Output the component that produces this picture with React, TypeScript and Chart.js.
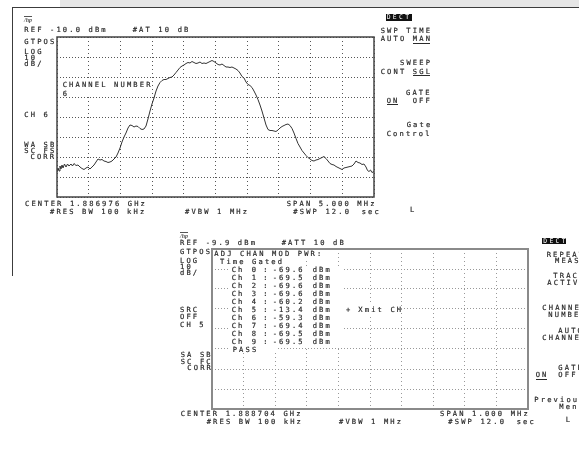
import React, { useEffect, useRef } from "react";
import { Chart, registerables } from "chart.js";

Chart.register(...registerables);

// ---------- DATA ----------
// Top trace: frequency offset from centre (kHz) and level (dBm)
const traceFreqKHz = [
  -2500, -2484, -2468, -2453, -2437, -2421, -2405, -2382, -2358, -2334, -2311, -2279, -2256, -2232, -2200,
  -2169, -2137, -2106, -2074, -2043, -2011, -1980, -1948, -1916, -1885, -1853, -1822, -1790, -1759, -1727,
  -1696, -1664, -1632, -1601, -1569, -1538, -1506, -1475, -1443, -1412, -1380, -1349, -1317, -1285, -1254,
  -1222, -1191, -1159, -1128, -1096, -1065, -1033, -1002, -970, -938, -907, -875, -844, -812, -781,
  -749, -718, -686, -655, -623, -591, -560, -528, -497, -465, -434, -402, -371, -339, -308,
  -276, -244, -213, -181, -150, -118, -87, -55, -24, 8, 40, 71, 103, 134, 166,
  197, 229, 260, 292, 323, 355, 386, 418, 450, 481, 513, 544, 576, 607, 639,
  670, 702, 733, 765, 797, 828, 860, 891, 923, 954, 986, 1017, 1049, 1081, 1112,
  1144, 1175, 1207, 1238, 1270, 1301, 1333, 1364, 1396, 1428, 1459, 1491, 1522, 1554, 1585,
  1617, 1648, 1680, 1711, 1743, 1775, 1806, 1838, 1869, 1901, 1932, 1964, 1995, 2027, 2058,
  2090, 2122, 2153, 2185, 2216, 2248, 2279, 2311, 2342, 2374, 2398, 2421, 2445, 2468, 2500,
];
const traceDbm = [
  -77.5, -75.5, -77, -74.5, -76, -74, -75.5, -73.5, -75, -73.5, -74.5, -73.5, -74.5, -73.25, -74.25,
  -74, -75, -75.75, -76.25, -75.5, -75, -76, -75, -74, -72.5, -71, -71.5, -71.25, -72, -72.25,
  -72.75, -72.5, -72, -71, -70, -68, -65.5, -62.5, -60, -58, -55.5, -54, -54.25, -55, -54.5,
  -54.75, -55.75, -56.25, -56, -54.5, -51, -47, -43.5, -40.5, -37, -34.5, -32.75, -31.75, -31.25, -31.25,
  -30.75, -30.25, -30, -29, -27.75, -26.5, -25.25, -24.5, -24, -23.25, -22.75, -23, -22.25, -22.75, -23.25,
  -23, -22.5, -23.25, -23, -23.25, -22.75, -22.25, -21.75, -22.25, -23, -23.75, -24, -23.5, -24.25, -25,
  -25, -25.25, -25, -25.5, -26, -26.75, -28, -29.75, -30.5, -32.5, -33.75, -34.25, -35.25, -37, -39,
  -41.25, -44, -47, -50.5, -54, -56.25, -56.75, -56.75, -57, -57.25, -56.5, -55.5, -54.75, -54.25, -53.75,
  -53.5, -54.25, -55.75, -58, -60.75, -63.25, -65, -66.75, -68, -69.25, -70.25, -71, -71.75, -72, -71.5,
  -71.25, -70.75, -70.25, -69.75, -70.75, -72, -73.25, -73.75, -74, -74.75, -75.25, -75.75, -76.25, -75.5, -75.25,
  -75, -74.75, -74.5, -73.5, -72, -72.75, -73, -73.75, -73.5, -75, -76.75, -77.25, -76.5, -77.75, -77.25,
];
const topSpanKHz = [-2500, 2500];
const topRefDbm = [-90, -10];
const bottomSpanKHz = [-500, 500];
const bottomRefDbm = [-89.9, -9.9];

// Adjacent channel table (bottom display)
const adjChannels = [0, 1, 2, 3, 4, 5, 6, 7, 8, 9];
const adjPowerDbm = [-69.6, -69.5, -69.6, -69.6, -60.2, -13.4, -59.3, -69.4, -69.5, -69.5];
const xmitChannel = 5;

// ---------- STYLE ----------
const FONT = '"DejaVu Sans Mono", monospace';
const FS = 7.1;
const LS = 2.15;
const INK = "#2a2a2a";

const framePlugin = {
  id: "frame",
  afterDraw(chart: any, _args: any, opts: any) {
    const { ctx, chartArea } = chart;
    const { left, top, right, bottom } = chartArea;
    ctx.save();
    ctx.strokeStyle = opts.color || "#444";
    ctx.lineWidth = opts.width || 1.5;
    ctx.strokeRect(left, top, right - left, bottom - top);
    ctx.restore();
  },
};

function T({ x, y, children, color = INK }: { x: number; y: number; children: any; color?: string }) {
  return (
    <div
      style={{
        position: "absolute",
        left: x,
        top: y - 0.9,
        fontFamily: FONT,
        fontSize: FS + "px",
        lineHeight: FS + "px",
        letterSpacing: LS + "px",
        whiteSpace: "pre",
        color,
        WebkitTextStroke: "0.2px " + color,
        transform: "translateZ(0)",
      }}
    >
      {children}
    </div>
  );
}

function U({ x, y, w }: { x: number; y: number; w: number }) {
  return <div style={{ position: "absolute", left: x, top: y, width: w, height: 1.2, background: INK }} />;
}

function Box({ x, y, w, h, bg = "#fff" }: { x: number; y: number; w: number; h: number; bg?: string }) {
  return <div style={{ position: "absolute", left: x, top: y, width: w, height: h, background: bg }} />;
}

function Logo({ x, y }: { x: number; y: number }) {
  return (
    <div
      style={{
        position: "absolute",
        left: x,
        top: y,
        fontFamily: '"Liberation Serif", serif',
        fontStyle: "italic",
        fontWeight: "bold",
        fontSize: "6px",
        lineHeight: "6px",
        color: "#555",
        textDecoration: "overline",
        transform: "translateZ(0)",
      }}
    >
      /hp
    </div>
  );
}

function Dect({ x, y, w, h }: { x: number; y: number; w: number; h: number }) {
  return (
    <div style={{ position: "absolute", left: x, top: y, width: w, height: h, background: "#111" }}>
      <div
        style={{
          position: "absolute",
          left: 1,
          top: (h - FS) / 2 + 0.3,
          fontFamily: FONT,
          fontSize: "6.4px",
          lineHeight: FS + "px",
          letterSpacing: "2.3px",
          whiteSpace: "pre",
          color: "#fff",
          transform: "translateZ(0)",
        }}
      >
        DECT
      </div>
    </div>
  );
}

function makeScales(span: number[], ref: number[], xStep: number, color: string) {
  return {
    x: {
      type: "linear" as const,
      min: span[0],
      max: span[1],
      ticks: { display: false, stepSize: xStep },
      grid: { color, lineWidth: 1, drawTicks: false },
      border: { display: false, dash: [1, 3] },
    },
    y: {
      type: "linear" as const,
      min: ref[0],
      max: ref[1],
      ticks: { display: false, stepSize: 10 },
      grid: { color, lineWidth: 1, drawTicks: false },
      border: { display: false, dash: [1, 2] },
    },
  };
}

export default function App() {
  const topRef = useRef<HTMLCanvasElement>(null);
  const botRef = useRef<HTMLCanvasElement>(null);

  useEffect(() => {
    const top = new Chart(topRef.current!, {
      type: "line",
      data: {
        datasets: [
          {
            data: traceFreqKHz.map((f, i) => ({ x: f, y: traceDbm[i] })),
            borderColor: "#333",
            borderWidth: 1,
            pointRadius: 0,
            tension: 0,
          },
        ],
      },
      options: {
        responsive: false,
        animation: false,
        devicePixelRatio: 1,
        layout: { padding: 4 },
        plugins: { legend: { display: false }, tooltip: { enabled: false }, frame: { color: "#444", width: 1.5 } } as any,
        scales: makeScales(topSpanKHz, topRefDbm, 500, "#555") as any,
      },
      plugins: [framePlugin],
    });
    const bot = new Chart(botRef.current!, {
      type: "line",
      data: { datasets: [] },
      options: {
        responsive: false,
        animation: false,
        devicePixelRatio: 1,
        layout: { padding: 4 },
        plugins: { legend: { display: false }, tooltip: { enabled: false }, frame: { color: "#8a8a8a", width: 2 } } as any,
        scales: makeScales(bottomSpanKHz, bottomRefDbm, 100, "#999") as any,
      },
      plugins: [framePlugin],
    });
    return () => {
      top.destroy();
      bot.destroy();
    };
  }, []);

  const rowY = (i: number) => 267.3 + 7.98 * i;

  return (
    <div style={{ position: "fixed", left: 0, top: 0, width: 579, height: 455, overflow: "hidden", background: "#fff" }}>
      {/* page frame */}
      <Box x={60} y={0} w={519} h={6.7} bg="#e6e6e6" />
      <Box x={12} y={6.5} w={567} h={1.5} bg="#3c3c3c" />
      <Box x={11.8} y={6.5} w={1.5} h={269} bg="#3c3c3c" />

      {/* ---------- TOP DISPLAY ---------- */}
      <canvas ref={topRef} width={325} height={168} style={{ position: "absolute", left: 53, top: 33 }} />
      <Logo x={24} y={16.5} />
      <T x={24.3} y={27}>REF -10.0 dBm</T>
      <T x={132.7} y={27}>#AT 10 dB</T>
      <T x={24.3} y={39}>GTPOS</T>
      <T x={24.3} y={48.5}>LOG</T>
      <T x={24.3} y={54.8}>10</T>
      <T x={24.3} y={61.2}>dB/</T>
      <Box x={60} y={80} w={92} h={17} />
      <T x={62.7} y={81.7}>CHANNEL NUMBER</T>
      <T x={62.7} y={90.7}>6</T>
      <T x={24.3} y={111.7}>CH 6</T>
      <T x={24.3} y={141.8}>WA SB</T>
      <T x={24.3} y={148}>SC FS</T>
      <T x={30.5} y={154.3}>CORR</T>
      <T x={25} y={200.7}>CENTER 1.886976 GHz</T>
      <T x={50} y={209}>#RES BW 100 kHz</T>
      <T x={185} y={209}>#VBW 1 MHz</T>
      <T x={286.7} y={200.7}>SPAN 5.000 MHz</T>
      <T x={293.3} y={209}>#SWP 12.0</T>
      <T x={361.7} y={209}>sec</T>
      <T x={410} y={207}>L</T>

      {/* top softkeys */}
      <Dect x={385.7} y={13.8} w={26} h={6.8} />
      <T x={380.7} y={28.3}>SWP TIME</T>
      <T x={380.7} y={36.2}>AUTO MAN</T>
      <U x={412.7} y={42.6} w={17.5} />
      <T x={400} y={60}>SWEEP</T>
      <T x={380.7} y={68.5}>CONT SGL</T>
      <U x={412.7} y={74.9} w={17.5} />
      <T x={406} y={90}>GATE</T>
      <T x={386.7} y={97.7}>ON</T>
      <T x={412.7} y={97.7}>OFF</T>
      <U x={386.7} y={104.1} w={11} />
      <T x={406.7} y={122.3}>Gate</T>
      <T x={386.7} y={131}>Control</T>

      {/* ---------- BOTTOM DISPLAY ---------- */}
      <canvas ref={botRef} width={324} height={168} style={{ position: "absolute", left: 208, top: 245 }} />
      <Logo x={180} y={232.5} />
      <T x={180} y={240}>REF -9.9 dBm</T>
      <T x={281.7} y={240}>#ATT 10 dB</T>
      <T x={180} y={249}>GTPOS</T>
      <T x={180} y={257.6}>LOG</T>
      <T x={180} y={263.9}>10</T>
      <T x={180} y={270.2}>dB/</T>
      <T x={180} y={307.3}>SRC</T>
      <T x={180} y={314.2}>OFF</T>
      <T x={180} y={321.5}>CH 5</T>
      <T x={180.7} y={352.2}>SA SB</T>
      <T x={180.7} y={358.6}>SC FC</T>
      <T x={187.3} y={365}>CORR</T>
      <T x={180.7} y={411}>CENTER 1.888704 GHz</T>
      <T x={206.7} y={419}>#RES BW 100 kHz</T>
      <T x={339} y={419}>#VBW 1 MHz</T>
      <T x={440} y={411}>SPAN 1.000 MHz</T>
      <T x={448.3} y={419}>#SWP 12.0</T>
      <T x={516.7} y={419}>sec</T>
      <T x={565.7} y={417.3}>L</T>

      {/* ADJ CHAN table */}
      <Box x={213} y={250} w={121} h={7.5} />
      <T x={214.3} y={251.3}>ADJ CHAN MOD PWR:</T>
      <Box x={218} y={257.5} w={72} h={8} />
      <T x={220} y={258.8}>Time Gated</T>
      {adjChannels.map((ch, i) => {
        const y = rowY(i);
        const xmit = ch === xmitChannel;
        return (
          <React.Fragment key={ch}>
            <Box x={229} y={y - 1.8} w={xmit ? 167 : 114} h={8.6} />
            <T x={231.7} y={y}>Ch</T>
            <T x={251.7} y={y}>{String(ch)}</T>
            <T x={263.3} y={y}>:</T>
            <T x={272.7} y={y}>{adjPowerDbm[i].toFixed(1)}</T>
            <T x={312.7} y={y}>dBm</T>
            {xmit && (
              <>
                <T x={346} y={y}>+</T>
                <T x={358.3} y={y}>Xmit CH</T>
              </>
            )}
          </React.Fragment>
        );
      })}
      <Box x={229} y={345} w={49} h={8} />
      <T x={232.7} y={346.8}>PASS</T>

      {/* bottom softkeys (clipped at right edge) */}
      <Dect x={542.3} y={237.8} w={24} h={6.2} />
      <T x={546.7} y={251.7}>REPEAT</T>
      <T x={555} y={258.3}>MEAS</T>
      <T x={553.3} y={273.3}>TRACE</T>
      <T x={547.3} y={280}>ACTIVE</T>
      <T x={542.3} y={305}>CHANNEL</T>
      <T x={548.3} y={312.3}>NUMBER</T>
      <T x={558.3} y={328.3}>AUTO</T>
      <T x={542.3} y={335}>CHANNEL</T>
      <T x={558.3} y={365}>GATE</T>
      <T x={535.7} y={372.3}>ON</T>
      <U x={535.7} y={378.6} w={11} />
      <T x={558.3} y={372.3}>OFF</T>
      <T x={534.3} y={397.3}>Previous</T>
      <T x={559.3} y={404.3}>Menu</T>
    </div>
  );
}
